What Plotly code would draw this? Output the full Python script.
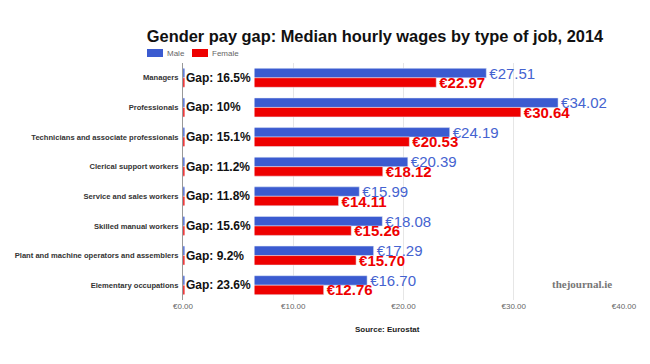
import plotly.graph_objects as go

categories = ["Managers", "Professionals", "Technicians and associate professionals",
              "Clerical support workers", "Service and sales workers", "Skilled manual workers",
              "Plant and machine operators and assemblers", "Elementary occupations"]
male = [27.51, 34.02, 24.19, 20.39, 15.99, 18.08, 17.29, 16.70]
female = [22.97, 30.64, 20.53, 18.12, 14.11, 15.26, 15.70, 12.76]
gap_labels = ["Gap: 16.5%", "Gap: 10%", "Gap: 15.1%", "Gap: 11.2%",
              "Gap: 11.8%", "Gap: 15.6%", "Gap: 9.2%", "Gap: 23.6%"]
tick_vals = [0, 10, 20, 30, 40]
tick_text = ["€0.00", "€10.00", "€20.00", "€30.00", "€40.00"]

BLUE = "#3b5bd0"
RED = "#ee0000"
FONT = "Liberation Sans, Arial, sans-serif"

# page body has an 8px margin: figure is placed at (8, 8)
OFF = 8
W, H = 650 - OFF, 364 - OFF
PL, PR, PT, PB = 183, 624, 63, 300   # plot area in page pixels
PW, PH = PR - PL, PB - PT

def px(x):
    return (x - PL) / PW

def py(y):
    return (PB - y) / PH

fig = go.Figure()
fig.add_trace(go.Bar(
    y=categories, x=male, orientation="h", name="Male", marker_color=BLUE,
    texttemplate="€%{x:.2f}", textposition="outside", constraintext="none",
    cliponaxis=False, textfont=dict(family=FONT, size=15, color="#4563d0"),
    showlegend=False))
fig.add_trace(go.Bar(
    y=categories, x=female, orientation="h", name="Female", marker_color=RED,
    texttemplate="€%{x:.2f}", textposition="outside", constraintext="none",
    cliponaxis=False, textfont=dict(family=FONT, size=15, color=RED, weight="bold"),
    showlegend=False))

annotations = []
for cat, g in zip(categories, gap_labels):
    annotations.append(dict(
        x=0, y=cat, xref="x", yref="y", text=g, showarrow=False,
        xanchor="left", yanchor="middle", xshift=0.5, align="left",
        width=67, height=24, bgcolor="white", borderpad=1,
        font=dict(family=FONT, size=12, color="#111", weight="bold")))

# legend (drawn as swatches + text)
shapes = [
    dict(type="rect", xref="paper", yref="paper", x0=px(147), x1=px(163),
         y0=py(57), y1=py(49), fillcolor=BLUE, line_width=0),
    dict(type="rect", xref="paper", yref="paper", x0=px(192), x1=px(208),
         y0=py(57), y1=py(49), fillcolor=RED, line_width=0),
]
annotations += [
    dict(x=px(165), y=py(53), xref="paper", yref="paper", text="Male",
         showarrow=False, xanchor="left", yanchor="middle",
         font=dict(family=FONT, size=8, color="#666")),
    dict(x=px(210), y=py(53), xref="paper", yref="paper", text="Female",
         showarrow=False, xanchor="left", yanchor="middle",
         font=dict(family=FONT, size=8, color="#666")),
    dict(x=px(387), y=py(329), xref="paper", yref="paper", text="<b>Source: Eurostat</b>",
         showarrow=False, xanchor="center", yanchor="middle",
         font=dict(family=FONT, size=8, color="#222")),
    dict(x=px(614), y=py(284), xref="paper", yref="paper", text="<b>thejournal.ie</b>",
         showarrow=False, xanchor="right", yanchor="middle",
         font=dict(family="Liberation Serif, DejaVu Serif, serif", size=11, color="#777")),
]

fig.update_layout(
    width=W, height=H,
    margin=dict(l=PL - OFF, r=650 - PR, t=PT - OFF, b=364 - PB, autoexpand=False),
    paper_bgcolor="white", plot_bgcolor="white",
    barmode="group", bargap=0.36, bargroupgap=0,
    title=dict(text="<b>Gender pay gap: Median hourly wages by type of job, 2014</b>",
               x=(375 - OFF) / W, xanchor="center", y=1 - (36 - OFF) / H, yanchor="middle",
               font=dict(family=FONT, size=16.4, color="#111")),
    xaxis=dict(range=[0, 40], tickvals=tick_vals, ticktext=tick_text,
               showgrid=True, gridcolor="#e6e6e6", gridwidth=1, zeroline=False,
               showline=False, ticks="",
               tickfont=dict(family=FONT, size=8, color="#666")),
    yaxis=dict(autorange="reversed", showline=True, linecolor="#999", linewidth=1,
               ticks="", ticklabelstandoff=2, showgrid=False,
               tickfont=dict(family=FONT, size=7.6, color="#333", weight="bold")),
    shapes=shapes, annotations=annotations,
    showlegend=False,
)

fig.write_html("out.html")
